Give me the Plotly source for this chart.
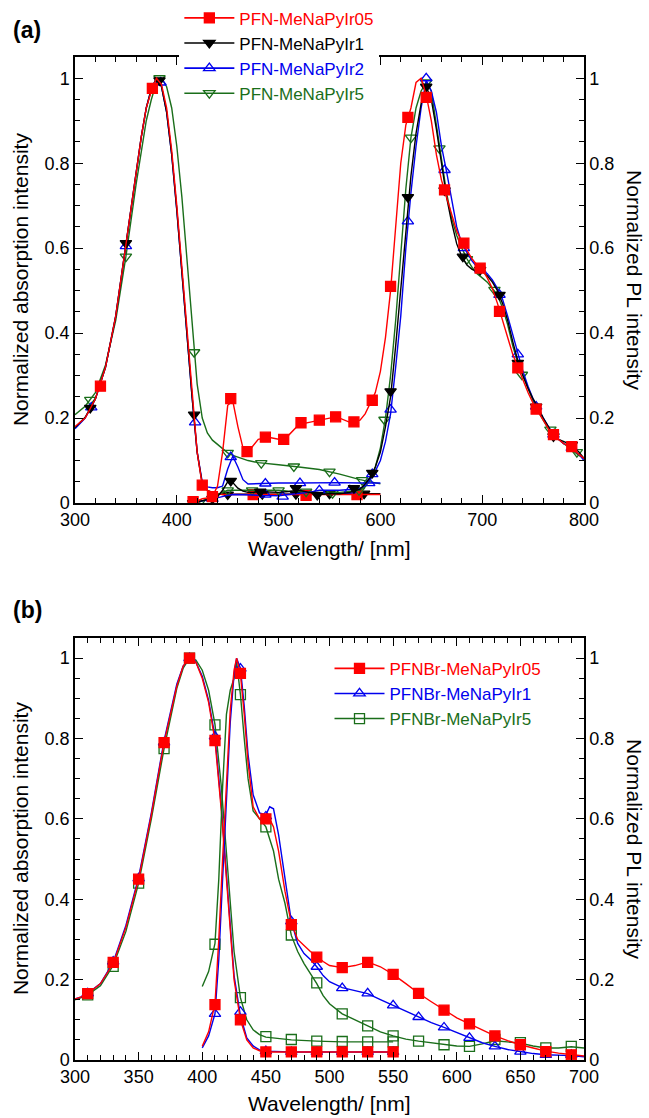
import plotly.graph_objects as go

FONT = "Liberation Sans, Arial, sans-serif"
RED, BLACK, BLUE, GREEN = "#ff0000", "#000000", "#0000ee", "#1a6e1a"

# ---------------- panel (a) : PFN-MeNaPyIr ----------------
abs_a_wl = [300, 310, 320, 330, 340, 350, 360, 365, 370, 375, 380, 385, 390, 395, 400, 405, 410,
            415, 420, 425, 430, 435, 440, 445, 450, 455, 460, 465, 470, 480, 490, 500, 520, 540,
            560, 580, 600]
abs_a_r05 = [0.18, 0.20, 0.245, 0.32, 0.44, 0.61, 0.78, 0.86, 0.93, 0.97, 1.0, 0.985, 0.93, 0.83,
             0.70, 0.55, 0.40, 0.25, 0.12, 0.042, 0.03, 0.025, 0.022, 0.02, 0.02, 0.02, 0.02, 0.02,
             0.02, 0.02, 0.02, 0.02, 0.02, 0.02, 0.02, 0.02, 0.02]
abs_a_r1 = [0.178, 0.202, 0.245, 0.32, 0.44, 0.61, 0.78, 0.86, 0.93, 0.975, 1.0, 0.98, 0.92, 0.82,
            0.69, 0.54, 0.39, 0.25, 0.12, 0.045, 0.03, 0.025, 0.022, 0.02, 0.02, 0.021, 0.021, 0.021,
            0.021, 0.021, 0.021, 0.022, 0.022, 0.022, 0.022, 0.022, 0.022]
abs_a_r2 = [0.175, 0.20, 0.245, 0.32, 0.44, 0.61, 0.78, 0.86, 0.93, 0.975, 1.0, 0.98, 0.92, 0.82,
            0.69, 0.54, 0.39, 0.25, 0.12, 0.05, 0.038, 0.036, 0.036, 0.04, 0.08, 0.11, 0.085, 0.055,
            0.045, 0.046, 0.047, 0.047, 0.047, 0.048, 0.048, 0.047, 0.047]
abs_a_r5 = [0.208, 0.228, 0.26, 0.325, 0.43, 0.58, 0.75, 0.83, 0.90, 0.95, 0.99, 1.0, 0.98, 0.93,
            0.84, 0.72, 0.58, 0.42, 0.28, 0.20, 0.165, 0.148, 0.138, 0.128, 0.118, 0.112, 0.108,
            0.104, 0.10, 0.095, 0.092, 0.09, 0.085, 0.079, 0.068, 0.055, 0.045]

abs_a_r05_mx = [325, 376, 425, 475, 527, 577]
abs_a_r05_my = [0.275, 0.976, 0.042, 0.02, 0.018, 0.02]
abs_a_r1_mx = [315, 350, 383, 417, 450, 484, 517, 550, 584]
abs_a_r1_my = [0.224, 0.612, 0.995, 0.208, 0.02, 0.021, 0.021, 0.022, 0.022]
abs_a_r2_mx = [316, 350, 384, 418, 453, 487, 521, 555, 589]
abs_a_r2_my = [0.225, 0.605, 0.99, 0.19, 0.108, 0.046, 0.047, 0.048, 0.047]
abs_a_r5_mx = [315, 350, 383, 417, 450, 483, 515, 550, 582]
abs_a_r5_my = [0.243, 0.58, 1.0, 0.355, 0.118, 0.094, 0.086, 0.074, 0.054]

pl_a_wl = [415, 420, 425, 430, 435, 440, 445, 450, 455, 460, 465, 470, 475, 480, 490, 500, 510, 520,
           530, 540, 550, 560, 570, 580, 585, 590, 595, 600, 605, 610, 615, 620, 625, 630, 635, 640,
           645, 650, 655, 660, 665, 670, 675, 680, 685, 690, 695, 700, 705, 710, 715, 720, 725, 730,
           735, 740, 745, 750, 755, 760, 765, 770, 775, 780, 785, 790, 795, 800]
pl_a_r05 = [0.0, 0.005, 0.01, 0.012, 0.015, 0.04, 0.12, 0.23, 0.24, 0.18, 0.13, 0.12, 0.135, 0.15,
            0.155, 0.15, 0.16, 0.185, 0.19, 0.195, 0.2, 0.2, 0.19, 0.195, 0.21, 0.235, 0.26, 0.31,
            0.39, 0.5, 0.64, 0.8, 0.89, 0.93, 0.99, 1.0, 0.96, 0.9, 0.82, 0.76, 0.72, 0.68, 0.64,
            0.615, 0.595, 0.575, 0.56, 0.55, 0.53, 0.505, 0.47, 0.43, 0.39, 0.35, 0.32, 0.29, 0.26,
            0.235, 0.215, 0.195, 0.175, 0.16, 0.15, 0.14, 0.135, 0.125, 0.115, 0.105]
pl_a_r1 = [0.0, 0.003, 0.005, 0.008, 0.01, 0.015, 0.03, 0.05, 0.048, 0.035, 0.028, 0.025, 0.025,
           0.027, 0.026, 0.025, 0.027, 0.03, 0.025, 0.02, 0.022, 0.022, 0.025, 0.033, 0.045, 0.06,
           0.085, 0.12, 0.18, 0.25, 0.37, 0.5, 0.64, 0.77, 0.87, 0.94, 0.98, 0.95, 0.88, 0.8, 0.72,
           0.66, 0.61, 0.58, 0.56, 0.55, 0.545, 0.545, 0.535, 0.52, 0.5, 0.47, 0.43, 0.38, 0.335,
           0.3, 0.27, 0.245, 0.225, 0.2, 0.18, 0.16, 0.15, 0.145, 0.14, 0.13, 0.12, 0.105]
pl_a_r2 = [0.0, 0.003, 0.005, 0.007, 0.01, 0.012, 0.015, 0.018, 0.02, 0.02, 0.02, 0.02, 0.019,
           0.018, 0.017, 0.017, 0.02, 0.022, 0.025, 0.03, 0.03, 0.03, 0.032, 0.035, 0.04, 0.055,
           0.075, 0.1, 0.145, 0.21, 0.32, 0.44, 0.6, 0.73, 0.84, 0.93, 0.995, 0.97, 0.92, 0.84,
           0.78, 0.71, 0.65, 0.61, 0.59, 0.57, 0.555, 0.55, 0.54, 0.525, 0.505, 0.48, 0.44, 0.395,
           0.35, 0.31, 0.275, 0.245, 0.22, 0.2, 0.18, 0.16, 0.15, 0.14, 0.135, 0.125, 0.115, 0.1]
pl_a_r5 = [0.0, 0.0, 0.005, 0.01, 0.015, 0.02, 0.025, 0.03, 0.03, 0.03, 0.03, 0.03, 0.03, 0.03,
           0.03, 0.03, 0.028, 0.027, 0.026, 0.025, 0.023, 0.025, 0.027, 0.03, 0.038, 0.055, 0.085,
           0.13, 0.2, 0.3, 0.43, 0.58, 0.74, 0.86, 0.93, 0.97, 0.99, 0.97, 0.89, 0.8, 0.73, 0.67,
           0.63, 0.6, 0.575, 0.555, 0.54, 0.53, 0.52, 0.505, 0.49, 0.46, 0.42, 0.37, 0.33, 0.3,
           0.27, 0.24, 0.215, 0.195, 0.175, 0.165, 0.15, 0.14, 0.13, 0.12, 0.112, 0.105]

pl_a_r05_mx = [416, 435, 453, 469, 487, 505, 522, 540, 556, 574, 592, 610, 627, 645, 663, 682, 698,
               717, 735, 753, 770, 788]
pl_a_r05_my = [0.003, 0.015, 0.246, 0.121, 0.155, 0.15, 0.189, 0.195, 0.203, 0.191, 0.242, 0.51,
               0.908, 0.955, 0.737, 0.612, 0.553, 0.451, 0.318, 0.221, 0.161, 0.133]
pl_a_r1_mx = [416, 435, 453, 482, 517, 538, 574, 592, 610, 627, 645, 663, 681, 698, 717, 735, 753,
              770, 788]
pl_a_r1_my = [0.0, 0.01, 0.052, 0.027, 0.035, 0.019, 0.035, 0.071, 0.263, 0.72, 0.98, 0.736, 0.58,
              0.549, 0.49, 0.33, 0.227, 0.157, 0.137]
pl_a_r2_mx = [416, 435, 487, 504, 540, 570, 592, 610, 627, 645, 663, 682, 698, 717, 735, 753, 770, 788]
pl_a_r2_my = [0.0, 0.01, 0.02, 0.015, 0.03, 0.03, 0.068, 0.22, 0.663, 1.0, 0.784, 0.6, 0.55, 0.49,
              0.35, 0.227, 0.161, 0.13]
pl_a_r5_mx = [422, 450, 474, 500, 527, 553, 579, 604, 630, 645, 658, 685, 712, 739, 767, 793]
pl_a_r5_my = [0.0, 0.03, 0.03, 0.03, 0.027, 0.023, 0.03, 0.196, 0.86, 0.99, 0.835, 0.574, 0.502,
              0.302, 0.173, 0.12]

# ---------------- panel (b) : PFNBr-MeNaPyIr ----------------
abs_b_wl = [300, 305, 310, 320, 330, 340, 350, 360, 370, 380, 385, 390, 395, 400, 405, 410, 415,
            420, 425, 430, 435, 440, 445, 450, 460, 470, 490, 510, 530, 550]
abs_b_r05 = [0.152, 0.157, 0.165, 0.19, 0.24, 0.33, 0.45, 0.61, 0.79, 0.93, 0.98, 1.0, 0.99, 0.95,
             0.89, 0.795, 0.62, 0.4, 0.2, 0.1, 0.05, 0.03, 0.023, 0.02, 0.02, 0.02, 0.02, 0.02,
             0.02, 0.02]
abs_b_r1 = [0.152, 0.157, 0.166, 0.19, 0.243, 0.335, 0.455, 0.615, 0.795, 0.935, 0.98, 1.0, 0.99,
            0.955, 0.895, 0.805, 0.63, 0.41, 0.21, 0.11, 0.055, 0.035, 0.025, 0.022, 0.021, 0.02,
            0.02, 0.02, 0.02, 0.02]
abs_b_r5 = [0.15, 0.155, 0.162, 0.185, 0.235, 0.32, 0.44, 0.6, 0.775, 0.925, 0.975, 1.0, 0.995,
            0.97, 0.92, 0.835, 0.68, 0.47, 0.27, 0.155, 0.1, 0.075, 0.063, 0.057, 0.053, 0.05,
            0.047, 0.045, 0.045, 0.045]

abs_b_mx = [310, 330, 350, 370, 390, 410, 430, 450, 470, 490, 510, 530, 550]
abs_b_r05_my = [0.165, 0.243, 0.45, 0.79, 1.0, 0.795, 0.1, 0.02, 0.02, 0.02, 0.02, 0.02, 0.02]
abs_b_r1_my = [0.166, 0.245, 0.452, 0.79, 1.0, 0.805, 0.12, 0.022, 0.02, 0.02, 0.02, 0.02, 0.02]
abs_b_r5_my = [0.162, 0.233, 0.44, 0.775, 1.0, 0.834, 0.155, 0.058, 0.051, 0.047, 0.046, 0.045,
               0.045]

pl_b_wl = [400, 405, 410, 413, 416, 419, 422, 425, 427, 430, 433, 436, 440, 445, 450, 453, 456, 460,
           465, 470, 475, 480, 485, 490, 495, 500, 510, 520, 530, 540, 550, 560, 570, 580, 590, 600,
           610, 620, 630, 640, 650, 660, 670, 680, 690, 700]
pl_b_r05 = [0.034, 0.07, 0.14, 0.3, 0.5, 0.7, 0.87, 0.97, 1.0, 0.96, 0.86, 0.74, 0.63, 0.6, 0.605,
            0.6, 0.58, 0.52, 0.42, 0.34, 0.3, 0.285, 0.27, 0.258, 0.245, 0.235, 0.23, 0.235, 0.244,
            0.232, 0.213, 0.19, 0.166, 0.145, 0.124, 0.105, 0.09, 0.075, 0.06, 0.048, 0.038, 0.03,
            0.022, 0.017, 0.013, 0.01]
pl_b_r1 = [0.03, 0.06, 0.115, 0.25, 0.45, 0.66, 0.84, 0.96, 1.0, 0.975, 0.88, 0.76, 0.66, 0.615,
           0.61, 0.63, 0.625, 0.56, 0.45, 0.345, 0.29, 0.265, 0.25, 0.232, 0.21, 0.195, 0.18, 0.172,
           0.165, 0.15, 0.136, 0.12, 0.107, 0.093, 0.081, 0.068, 0.055, 0.043, 0.034, 0.026, 0.021,
           0.016, 0.013, 0.012, 0.011, 0.008]
pl_b_r5 = [0.183, 0.22, 0.29, 0.45, 0.68, 0.86, 0.92, 0.95, 0.99, 0.91, 0.8, 0.7, 0.62, 0.6, 0.58,
           0.55, 0.52, 0.45, 0.39, 0.31, 0.27, 0.24, 0.215, 0.19, 0.16, 0.14, 0.115, 0.1, 0.085,
           0.07, 0.06, 0.052, 0.047, 0.043, 0.038, 0.035, 0.034, 0.04, 0.048, 0.045, 0.042, 0.035,
           0.03, 0.03, 0.033, 0.03]

pl_b_mx = [410, 430, 450, 470, 490, 510, 530, 550, 570, 590, 610, 630, 650, 670, 690]
pl_b_r05_my = [0.138, 0.962, 0.6, 0.337, 0.256, 0.23, 0.243, 0.213, 0.166, 0.124, 0.09, 0.06,
               0.038, 0.021, 0.013]
pl_b_r1_my = [0.115, 0.974, 0.606, 0.345, 0.232, 0.179, 0.166, 0.136, 0.107, 0.081, 0.055, 0.034,
              0.021, 0.013, 0.013]
pl_b_r5_my = [0.288, 0.909, 0.58, 0.311, 0.192, 0.115, 0.085, 0.06, 0.047, 0.038, 0.034, 0.051,
              0.043, 0.03, 0.034]


def marker(color, symbol, size=10):
    return dict(color=color, symbol=symbol, size=size, line=dict(color=color, width=1.3))


def add_curve(fig, x, y, mx, my, color, symbol, xa, ya):
    fig.add_trace(go.Scatter(x=x, y=y, mode="lines", line=dict(color=color, width=1.4),
                             xaxis=xa, yaxis=ya, showlegend=False, hoverinfo="skip"))
    fig.add_trace(go.Scatter(x=mx, y=my, mode="markers", marker=marker(color, symbol),
                             xaxis=xa, yaxis=ya, showlegend=False, hoverinfo="skip"))


def add_legend(fig, name, color, symbol, legend):
    fig.add_trace(go.Scatter(x=[None], y=[None], mode="lines+markers",
                             name=f"<span style='color:{color}'>{name}</span>",
                             line=dict(color=color, width=1.6), marker=marker(color, symbol),
                             legend=legend, xaxis="x", yaxis="y"))


fig = go.Figure()

series_a = [
    ("PFN-MeNaPyIr05", RED, "square", abs_a_r05, abs_a_r05_mx, abs_a_r05_my,
     pl_a_r05, pl_a_r05_mx, pl_a_r05_my),
    ("PFN-MeNaPyIr1", BLACK, "triangle-down", abs_a_r1, abs_a_r1_mx, abs_a_r1_my,
     pl_a_r1, pl_a_r1_mx, pl_a_r1_my),
    ("PFN-MeNaPyIr2", BLUE, "triangle-up-open", abs_a_r2, abs_a_r2_mx, abs_a_r2_my,
     pl_a_r2, pl_a_r2_mx, pl_a_r2_my),
    ("PFN-MeNaPyIr5", GREEN, "triangle-down-open", abs_a_r5, abs_a_r5_mx, abs_a_r5_my,
     pl_a_r5, pl_a_r5_mx, pl_a_r5_my),
]
for name, c, sym, ay, amx, amy, py, pmx, pmy in reversed(series_a):
    add_curve(fig, abs_a_wl, ay, amx, amy, c, sym, "x", "y")
    add_curve(fig, pl_a_wl, py, pmx, pmy, c, sym, "x", "y2")

series_b = [
    ("PFNBr-MeNaPyIr05", RED, "square", abs_b_r05, abs_b_r05_my, pl_b_r05, pl_b_r05_my),
    ("PFNBr-MeNaPyIr1", BLUE, "triangle-up-open", abs_b_r1, abs_b_r1_my, pl_b_r1, pl_b_r1_my),
    ("PFNBr-MeNaPyIr5", GREEN, "square-open", abs_b_r5, abs_b_r5_my, pl_b_r5, pl_b_r5_my),
]
for name, c, sym, ay, amy, py, pmy in reversed(series_b):
    add_curve(fig, abs_b_wl, ay, abs_b_mx, amy, c, sym, "x2", "y3")
    add_curve(fig, pl_b_wl, py, pl_b_mx, pmy, c, sym, "x2", "y4")

for name, c, sym, *_ in series_a:
    add_legend(fig, name, c, sym, "legend")
for name, c, sym, *_ in series_b:
    add_legend(fig, name, c, sym, "legend2")

tickfont = dict(family=FONT, size=18, color="black")
common = dict(showline=True, linecolor="black", linewidth=1.5, showgrid=False, zeroline=False,
              ticks="inside", ticklen=8, tickwidth=1.3, tickcolor="black", tickfont=tickfont)
yax = dict(common, range=[0, 1.05], dtick=0.2, tick0=0,
           minor=dict(dtick=0.05, ticks="inside", ticklen=5, tickcolor="black", tickwidth=1.2))
xa_minor = dict(ticks="inside", ticklen=5, tickcolor="black", tickwidth=1.2)

top_dom = [0.5553, 1.0]
bot_dom = [0.0, 0.4207]

fig.update_layout(
    width=649, height=1118,
    paper_bgcolor="white", plot_bgcolor="white",
    margin=dict(l=75, r=65, t=57, b=58, autoexpand=False),
    font=dict(family=FONT, color="black"),
    xaxis=dict(common, domain=[0, 1], anchor="y", range=[300, 800], dtick=100, mirror="ticks",
               minor=dict(xa_minor, dtick=20)),
    yaxis=dict(yax, domain=top_dom, anchor="x"),
    yaxis2=dict(yax, overlaying="y", side="right", anchor="x"),
    xaxis2=dict(common, domain=[0, 1], anchor="y3", range=[300, 700], dtick=50, mirror="ticks",
                minor=dict(xa_minor, dtick=10)),
    yaxis3=dict(yax, domain=bot_dom, anchor="x2"),
    yaxis4=dict(yax, overlaying="y3", side="right", anchor="x2"),
    legend=dict(x=0.205, y=1.0565, xanchor="left", yanchor="top", bgcolor="white",
                font=dict(family=FONT, size=17), itemwidth=50, tracegroupgap=0),
    legend2=dict(x=0.50, y=0.408, xanchor="left", yanchor="top", bgcolor="rgba(0,0,0,0)",
                 font=dict(family=FONT, size=17), itemwidth=50, tracegroupgap=0),
)

title_font = dict(family=FONT, size=21, color="black")
annotations = [
    dict(text="<b>(a)</b>", x=-0.125, y=1.027, xanchor="left", yanchor="middle",
         font=dict(family=FONT, size=23)),
    dict(text="<b>(b)</b>", x=-0.125, y=0.4487, xanchor="left", yanchor="middle",
         font=dict(family=FONT, size=23)),
    dict(text="Wavelength/ [nm]", x=0.5, y=0.5095, xanchor="center", yanchor="middle",
         font=title_font),
    dict(text="Wavelength/ [nm]", x=0.5, y=-0.043, xanchor="center", yanchor="middle",
         font=title_font),
]
for dom in (top_dom, bot_dom):
    mid = (dom[0] + dom[1]) / 2
    annotations.append(dict(text="Normalized absorption intensity", x=-0.108, y=mid,
                            textangle=-90, xanchor="center", yanchor="middle", font=title_font))
    annotations.append(dict(text="Normalized PL intensity", x=1.10, y=mid, textangle=90,
                            xanchor="center", yanchor="middle", font=title_font))
for a in annotations:
    a.update(xref="paper", yref="paper", showarrow=False)
fig.update_layout(annotations=annotations)

fig.write_html("out.html", config={"displayModeBar": False},
               post_script="document.body.style.margin='0';document.body.style.overflow='hidden';")
